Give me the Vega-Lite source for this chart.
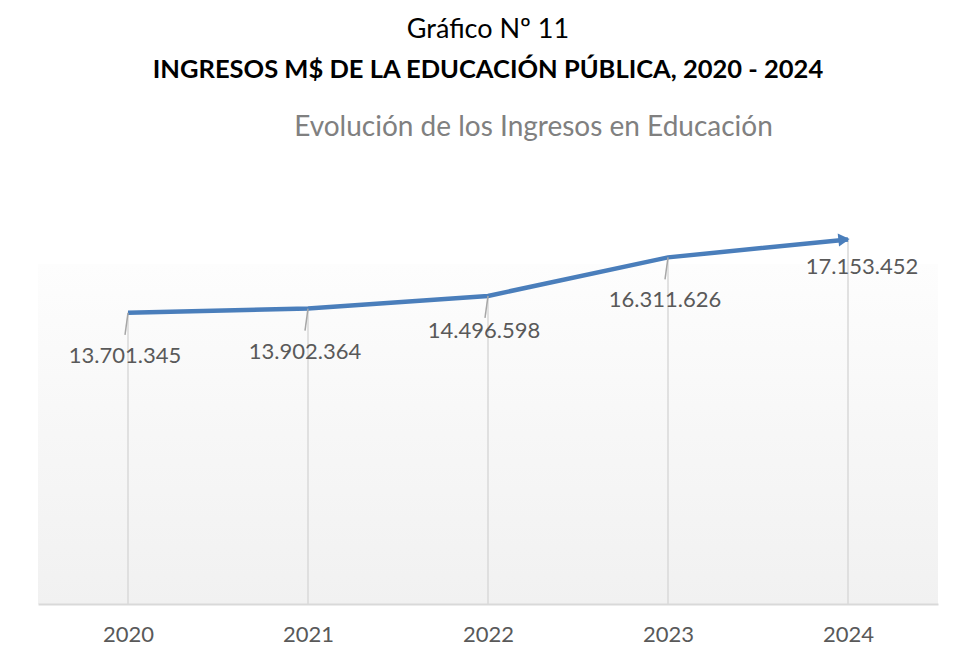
{
  "$schema": "https://vega.github.io/schema/vega-lite/v6.json",
  "width": 900,
  "height": 340,
  "autosize": {"type": "none"},
  "padding": {"left": 38, "top": 264, "right": 16, "bottom": 56},
  "background": "white",
  "config": {
    "font": "Lato",
    "view": {
      "stroke": null,
      "fill": {"gradient": "linear", "x1": 0, "y1": 0, "x2": 0, "y2": 1,
        "stops": [{"offset": 0, "color": "#fdfdfd"}, {"offset": 1, "color": "#f1f1f1"}]}
    }
  },
  "title": {
    "text": "Gráfico Nº 11",
    "subtitle": "INGRESOS M$ DE LA EDUCACIÓN PÚBLICA, 2020 - 2024",
    "font": "Lato",
    "fontSize": 27,
    "fontWeight": "normal",
    "color": "black",
    "subtitleFont": "Lato",
    "subtitleFontSize": 25.5,
    "subtitleFontWeight": "bold",
    "subtitleColor": "black",
    "subtitlePadding": 14,
    "anchor": "middle",
    "offset": 29
  },
  "data": {
    "values": [
      {"year": "2020", "value": 13701345, "label": "13.701.345"},
      {"year": "2021", "value": 13902364, "label": "13.902.364"},
      {"year": "2022", "value": 14496598, "label": "14.496.598"},
      {"year": "2023", "value": 16311626, "label": "16.311.626"},
      {"year": "2024", "value": 17153452, "label": "17.153.452"}
    ]
  },
  "resolve": {"axis": {"x": "independent"}},
  "layer": [
    {
      "mark": {"type": "rule", "color": "#d9d9d9", "strokeWidth": 1.5},
      "encoding": {
        "x": {"field": "year", "type": "ordinal",
          "scale": {"type": "point", "padding": 0.5},
          "axis": {"orient": "bottom", "title": null, "labelAngle": 0, "ticks": false, "grid": false,
            "domainColor": "#d9d9d9", "domainWidth": 2, "labelColor": "#595959", "labelFontSize": 22,
            "labelPadding": 20, "labelFont": "Lato"}},
        "y": {"field": "value", "type": "quantitative", "scale": {"domain": [0, 16000000]}, "axis": null},
        "y2": {"datum": 0}
      }
    },
    {
      "mark": {"type": "line", "color": "#4a7ebb", "strokeWidth": 4.5},
      "encoding": {
        "x": {"field": "year", "type": "ordinal",
          "axis": {"orient": "top", "title": "Evolución de los Ingresos en Educación", "labels": false,
            "ticks": false, "domain": false, "grid": false, "titleFontSize": 28, "titleFontWeight": "normal",
            "titleColor": "#808080", "titleFont": "Lato", "titlePadding": 123, "titleX": 495}},
        "y": {"field": "value", "type": "quantitative", "axis": null}
      }
    },
    {
      "transform": [{"filter": "datum.year != '2024'"}],
      "mark": {"type": "rule", "color": "#a6a6a6", "strokeWidth": 1.5, "x2Offset": -3, "y2Offset": 22},
      "encoding": {
        "x": {"field": "year", "type": "ordinal", "axis": null},
        "x2": {"field": "year"},
        "y": {"field": "value", "type": "quantitative", "axis": null},
        "y2": {"field": "value"}
      }
    },
    {
      "transform": [{"filter": "datum.year == '2024'"}],
      "mark": {"type": "point", "shape": "triangle-right", "filled": true, "opacity": 1, "color": "#4a7ebb",
        "size": 170, "angle": 354, "xOffset": -4},
      "encoding": {
        "x": {"field": "year", "type": "ordinal", "axis": null},
        "y": {"field": "value", "type": "quantitative", "axis": null}
      }
    },
    {
      "transform": [{"filter": "datum.year == '2020' || datum.year == '2021' || datum.year == '2023'"}],
      "mark": {"type": "text", "fontSize": 22, "color": "#595959", "dy": 43, "dx": -3, "font": "Lato"},
      "encoding": {
        "x": {"field": "year", "type": "ordinal", "axis": null},
        "y": {"field": "value", "type": "quantitative", "axis": null},
        "text": {"field": "label"}
      }
    },
    {
      "transform": [{"filter": "datum.year == '2022'"}],
      "mark": {"type": "text", "fontSize": 22, "color": "#595959", "dy": 35, "dx": -4, "font": "Lato"},
      "encoding": {
        "x": {"field": "year", "type": "ordinal", "axis": null},
        "y": {"field": "value", "type": "quantitative", "axis": null},
        "text": {"field": "label"}
      }
    },
    {
      "transform": [{"filter": "datum.year == '2024'"}],
      "mark": {"type": "text", "fontSize": 22, "color": "#595959", "dy": 28, "dx": 14, "font": "Lato"},
      "encoding": {
        "x": {"field": "year", "type": "ordinal", "axis": null},
        "y": {"field": "value", "type": "quantitative", "axis": null},
        "text": {"field": "label"}
      }
    }
  ]
}
